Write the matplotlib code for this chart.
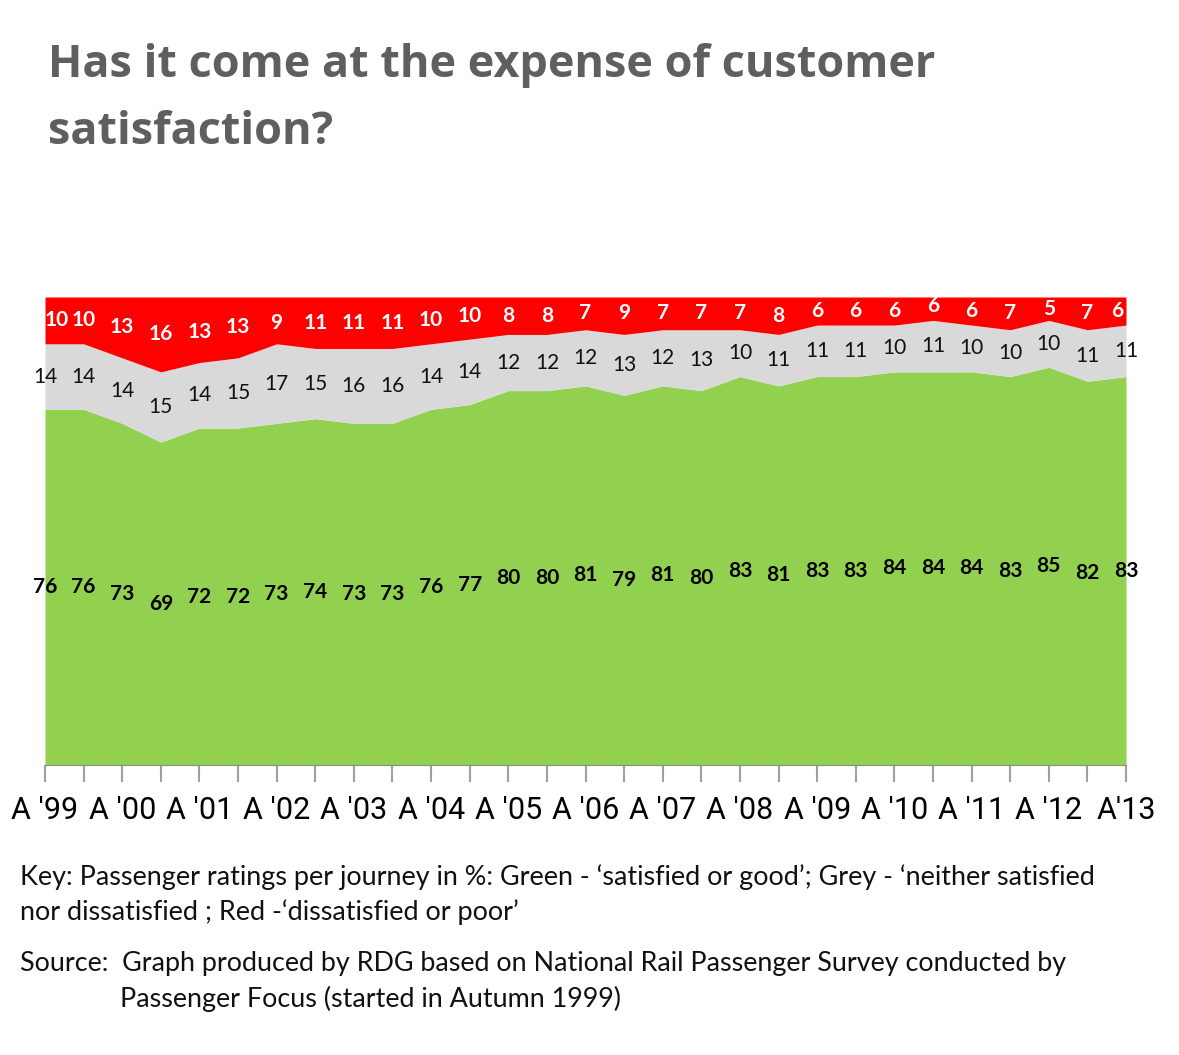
import matplotlib.pyplot as plt
import numpy as np

## DATOS

etiquetas = ["A '99", "A '00", "A '01", "A '02", "A '03", "A '04", "A '05", "A '06",
             "A '07", "A '08", "A '09", "A '10", "A '11", "A '12", "A'13"]

verde = [76, 76, 73, 69, 72, 72, 73, 74, 73, 73, 76, 77, 80, 80, 81,
         79, 81, 80, 83, 81, 83, 83, 84, 84, 84, 83, 85, 82, 83]
gris = [14, 14, 14, 15, 14, 15, 17, 15, 16, 16, 14, 14, 12, 12, 12,
        13, 12, 13, 10, 11, 11, 11, 10, 11, 10, 10, 10, 11, 11]
rojo = [10, 10, 13, 16, 13, 13, 9, 11, 11, 11, 10, 10, 8, 8, 7,
        9, 7, 7, 7, 8, 6, 6, 6, 6, 6, 7, 5, 7, 6]

x = np.arange(len(verde))
v = np.array(verde)
g = np.array(gris)
r = np.array(rojo)
n = len(x)

## FIGURA

fig = plt.figure(figsize=(11.79, 10.55), dpi=100)
ax = fig.add_axes([45 / 1179, 1 - 765 / 1055, (1126 - 45) / 1179, (765 - 297) / 1055])

ax.fill_between(x, 0, v, color="#92D050", lw=0)
ax.fill_between(x, v, v + g, color="#D9D9D9", lw=0)
ax.fill_between(x, v + g, 100, color="#FF0000", lw=0)

ax.set_xlim(0, n - 1)
ax.set_ylim(0, 100)

for i in x:
    # las etiquetas rojas de los bordes quedan un poco hacia dentro
    dx = 0.0
    if i == 0:
        dx = 0.3
    elif i == n - 1:
        dx = -0.22
    ax.text(i, v[i] / 2, str(verde[i]), ha="center", va="center",
            fontsize=15, fontweight="bold", color="black", family="Lato")
    ax.text(i, v[i] + g[i] / 2, str(gris[i]), ha="center", va="center",
            fontsize=15, color="#111111", family="Lato")
    ax.text(i + dx, v[i] + g[i] + r[i] / 2, str(rojo[i]), ha="center", va="center",
            fontsize=15, fontweight="bold", color="white", family="Lato")

for s in ["top", "right", "left"]:
    ax.spines[s].set_visible(False)
ax.spines["bottom"].set_color("#8c8c8c")
ax.set_yticks([])
ax.set_xticks(x, minor=True)
ax.set_xticks(x[::2])
ax.set_xticklabels(etiquetas, fontsize=22, family="Roboto")
ax.tick_params(axis="x", which="both", length=12, width=1.5, color="#a0a0a0", pad=10)

## TEXTOS

t1 = fig.text(48 / 1179, 1 - 65 / 1055, "Has it come at the expense of customer", fontsize=32,
              fontweight="bold", color="#5f5f5f", family="Open Sans", va="center")
t2 = fig.text(48 / 1179, 1 - 132 / 1055, "satisfaction?", fontsize=32,
              fontweight="bold", color="#5f5f5f", family="Open Sans", va="center")

k1 = fig.text(20 / 1179, 1 - 877 / 1055,
              "Key: Passenger ratings per journey in %: Green - \u2018satisfied or good\u2019; Grey - \u2018neither satisfied",
              fontsize=19.5, color="#111111", family="Lato", va="center")
k2 = fig.text(20 / 1179, 1 - 912 / 1055,
              "nor dissatisfied ; Red -\u2018dissatisfied or poor\u2019",
              fontsize=19.5, color="#111111", family="Lato", va="center")
s1 = fig.text(20 / 1179, 1 - 964 / 1055,
              "Source:  Graph produced by RDG based on National Rail Passenger Survey conducted by",
              fontsize=19.5, color="#111111", family="Lato", va="center")
s2 = fig.text(120 / 1179, 1 - 999 / 1055,
              "Passenger Focus (started in Autumn 1999)",
              fontsize=19.5, color="#111111", family="Lato", va="center")

# ajustar el tamaño para que el ancho coincida con el original
rend = fig.canvas.get_renderer()
for t, ancho, otros in [(t1, 889, [t2]), (k1, 1080, [k2]), (s1, 1048, [s2])]:
    w = t.get_window_extent(rend).width
    fs = t.get_fontsize() * ancho / w
    t.set_fontsize(fs)
    for o in otros:
        o.set_fontsize(fs)

fig.savefig("out.png", dpi=100)
